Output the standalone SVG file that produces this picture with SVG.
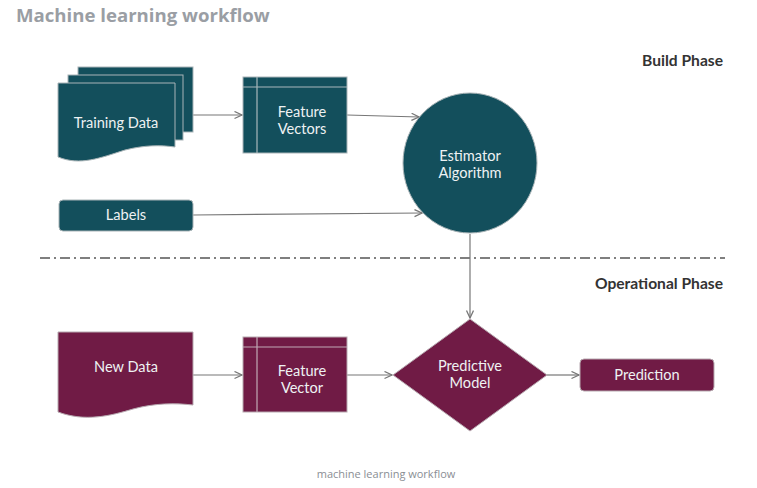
<svg xmlns="http://www.w3.org/2000/svg" width="757" height="488" viewBox="0 0 757 488">
<defs>
<style>
.t{fill:#134f5c;stroke:#a9b4b7;stroke-width:1}
.m{fill:#701b45;stroke:#b7a9b0;stroke-width:1}
.in{stroke:#a9b8bb;stroke-width:1.2;fill:none}
.inm{stroke:#c0aab5;stroke-width:1.2;fill:none}
.lbl{font-family:Lato,"Noto Sans",sans-serif;font-size:14.6px;fill:#eef2f3;text-anchor:middle}
.ph{font-family:Lato,"Noto Sans",sans-serif;font-size:15.6px;font-weight:bold;fill:#333;text-anchor:end}
.c{stroke:#777;stroke-width:1.2;fill:none}
</style>
<marker id="ar" markerWidth="10" markerHeight="10" refX="8" refY="4" orient="auto" markerUnits="userSpaceOnUse">
<path d="M0.5,0.5 L8,4 L0.5,7.5" fill="none" stroke="#777" stroke-width="1.3"/>
</marker>
</defs>
<rect width="757" height="488" fill="#fff"/>
<text x="16" y="22" font-family="'Open Sans',sans-serif" font-size="18.6" font-weight="bold" fill="#9a9ea4">Machine learning workflow</text>
<text class="ph" x="723" y="66">Build Phase</text>
<text class="ph" x="723" y="289">Operational Phase</text>
<line x1="40" y1="258" x2="725" y2="258" stroke="#555" stroke-width="1.6" stroke-dasharray="10 4 2 4"/>
<g id="connectors">
<line class="c" x1="193" y1="115" x2="242" y2="115" marker-end="url(#ar)"/>
<line class="c" x1="347" y1="115" x2="419" y2="117" marker-end="url(#ar)"/>
<line class="c" x1="193" y1="215" x2="422" y2="213" marker-end="url(#ar)"/>
<line class="c" x1="470" y1="234" x2="470" y2="318" marker-end="url(#ar)"/>
<line class="c" x1="193" y1="375" x2="242" y2="375" marker-end="url(#ar)"/>
<line class="c" x1="347" y1="375" x2="392" y2="375" marker-end="url(#ar)"/>
<line class="c" x1="547" y1="375" x2="579" y2="375" marker-end="url(#ar)"/>
</g>
<g id="training-data">
<rect class="t" x="78" y="67" width="115" height="65"/>
<rect class="t" x="68" y="75" width="115" height="65"/>
<path class="t" d="M58,83 H175 V147 C160,145 145,145 125,150 C100,158 80,166 58,157 Z"/>
<text class="lbl" x="116" y="128">Training Data</text>
</g>
<g id="feature-vectors">
<rect class="t" x="243" y="77" width="104" height="76"/>
<path class="in" d="M243,87 H347 M257,77 V153"/>
<text class="lbl" x="302" y="117">Feature</text>
<text class="lbl" x="302" y="134">Vectors</text>
</g>
<g id="estimator">
<ellipse class="t" cx="470" cy="163" rx="67" ry="70"/>
<text class="lbl" x="470" y="161">Estimator</text>
<text class="lbl" x="470" y="178">Algorithm</text>
</g>
<g id="labels">
<rect class="t" x="59" y="200" width="134" height="31" rx="4"/>
<text class="lbl" x="126" y="220">Labels</text>
</g>
<g id="new-data">
<path class="m" d="M58,332 H193 V405 C175,403 155,403 133,409 C110,416 85,422 58,412 Z"/>
<text class="lbl" x="126" y="372">New Data</text>
</g>
<g id="feature-vector">
<rect class="m" x="243" y="337" width="104" height="75"/>
<path class="inm" d="M243,347 H347 M257,337 V412"/>
<text class="lbl" x="302" y="376">Feature</text>
<text class="lbl" x="302" y="393">Vector</text>
</g>
<g id="predictive-model">
<path class="m" d="M470,319 L547,375 L470,431 L393,375 Z"/>
<text class="lbl" x="470" y="371">Predictive</text>
<text class="lbl" x="470" y="388">Model</text>
</g>
<g id="prediction">
<rect class="m" x="580" y="359" width="134" height="32" rx="4"/>
<text class="lbl" x="647" y="380">Prediction</text>
</g>
<text x="386" y="478" font-family="'Open Sans',sans-serif" font-size="11" fill="#8a8e94" text-anchor="middle">machine learning workflow</text>
</svg>
